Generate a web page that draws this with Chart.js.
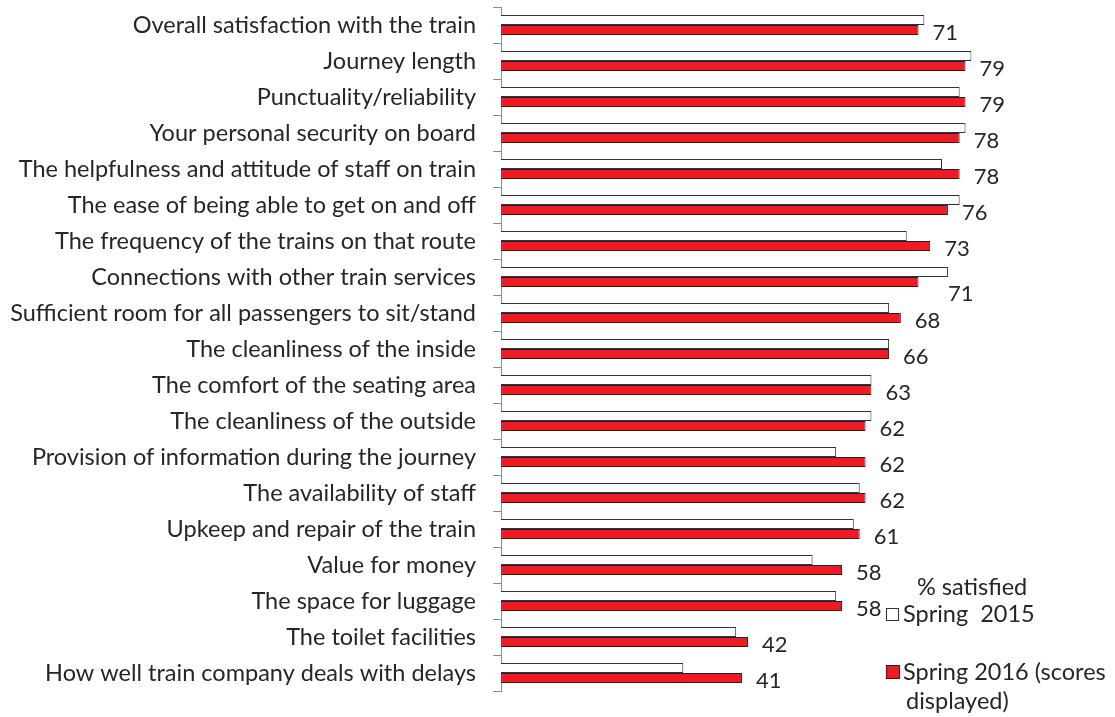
<!DOCTYPE html>
<html>
<head>
<meta charset="utf-8">
<script src="https://cdn.jsdelivr.net/npm/chart.js@4.4.1/dist/chart.umd.min.js"></script>
<style>
  html, body { margin: 0; padding: 0; background: #ffffff; }
  #wrap { width: 1115px; height: 717px; }
</style>
</head>
<body>
<div id="wrap"><canvas id="c" width="1115" height="717"></canvas></div>
<script>
const categories = [
  "Overall satisfaction with the train",
  "Journey length",
  "Punctuality/reliability",
  "Your personal security on board",
  "The helpfulness and attitude of staff on train",
  "The ease of being able to get on and off",
  "The frequency of the trains on that route",
  "Connections with other train services",
  "Sufficient room for all passengers to sit/stand",
  "The cleanliness of the inside",
  "The comfort of the seating area",
  "The cleanliness of the outside",
  "Provision of information during the journey",
  "The availability of staff",
  "Upkeep and repair of the train",
  "Value for money",
  "The space for luggage",
  "The toilet facilities",
  "How well train company deals with delays"
];
const spring2015 = [72, 80, 78, 79, 75, 78, 69, 76, 66, 66, 63, 63, 57, 61, 60, 53, 57, 40, 31];
const spring2016 = [71, 79, 79, 78, 78, 76, 73, 71, 68, 66, 63, 62, 62, 62, 61, 58, 58, 42, 41];
const seriesLabels = ["Spring  2015", "Spring 2016 (scores displayed)"];
const legendTitle = "% satisfied";

const FONT = "Lato, 'Open Sans', sans-serif";
const TEXT = "#262626";

const valueLabels = {
  id: 'valueLabels',
  afterDatasetsDraw(chart) {
    const ctx = chart.ctx;
    const white = chart.getDatasetMeta(0).data;
    const red = chart.getDatasetMeta(1).data;
    ctx.save();
    ctx.font = "22px " + FONT;
    ctx.fillStyle = TEXT;
    ctx.textAlign = 'left';
    ctx.textBaseline = 'middle';
    red.forEach((el, i) => {
      let x = el.x + 14;
      let y = el.y + 3;
      const wEnd = white[i].x;
      if (wEnd > el.x + 14) { x = wEnd; y = el.y + 12; }
      ctx.fillText(String(spring2016[i]), x, y);
    });
    ctx.restore();
  }
};

const customLegend = {
  id: 'customLegend',
  afterDraw(chart) {
    const ctx = chart.ctx;
    const ds = chart.data.datasets;
    ctx.save();
    ctx.font = "23.5px " + FONT;
    ctx.fillStyle = TEXT;
    ctx.textBaseline = 'middle';
    ctx.textAlign = 'left';
    ctx.fillText(legendTitle, 917, 587);
    ctx.fillStyle = ds[0].backgroundColor;
    ctx.strokeStyle = ds[0].borderColor;
    ctx.lineWidth = 1;
    ctx.fillRect(886.5, 608.5, 12, 12);
    ctx.strokeRect(886.5, 608.5, 12, 12);
    ctx.fillStyle = TEXT;
    ctx.fillText(seriesLabels[0], 903, 614);
    ctx.fillStyle = ds[1].backgroundColor;
    ctx.strokeStyle = ds[1].borderColor;
    ctx.fillRect(886.5, 665.5, 13, 13);
    ctx.strokeRect(886.5, 665.5, 13, 13);
    ctx.fillStyle = TEXT;
    ctx.fillText("Spring 2016 (scores", 903, 672);
    ctx.fillText("displayed)", 906, 701);
    ctx.restore();
  }
};

new Chart(document.getElementById('c'), {
  type: 'bar',
  data: {
    labels: categories,
    datasets: [
      {
        label: seriesLabels[0],
        data: spring2015,
        backgroundColor: '#ffffff',
        borderColor: '#333333',
        borderWidth: 1,
        borderSkipped: 'start',
        categoryPercentage: 0.556,
        barPercentage: 1.0
      },
      {
        label: seriesLabels[1],
        data: spring2016,
        backgroundColor: '#ED1C24',
        borderColor: '#3a1a1a',
        borderWidth: 1,
        borderSkipped: 'start',
        categoryPercentage: 0.556,
        barPercentage: 1.0
      }
    ]
  },
  options: {
    indexAxis: 'y',
    responsive: false,
    animation: false,
    devicePixelRatio: 1,
    layout: { padding: { left: 0, top: 7, right: 26, bottom: 26 } },
    plugins: {
      legend: { display: false },
      tooltip: { enabled: false },
      title: { display: false }
    },
    scales: {
      x: {
        display: false,
        min: 0,
        max: 100
      },
      y: {
        afterFit(scale) {
          scale.width = 501;
          scale.paddingTop = 0;
          scale.paddingBottom = 0;
        },
        grid: {
          display: true,
          offset: true,
          drawOnChartArea: false,
          drawTicks: true,
          tickLength: 8,
          color: '#8c8c8c',
          lineWidth: 1
        },
        border: { display: true, color: '#8c8c8c', width: 1 },
        ticks: {
          font: { family: FONT, size: 23.5 },
          color: TEXT,
          padding: 17,
          autoSkip: false
        }
      }
    }
  },
  plugins: [valueLabels, customLegend]
});
</script>
</body>
</html>
